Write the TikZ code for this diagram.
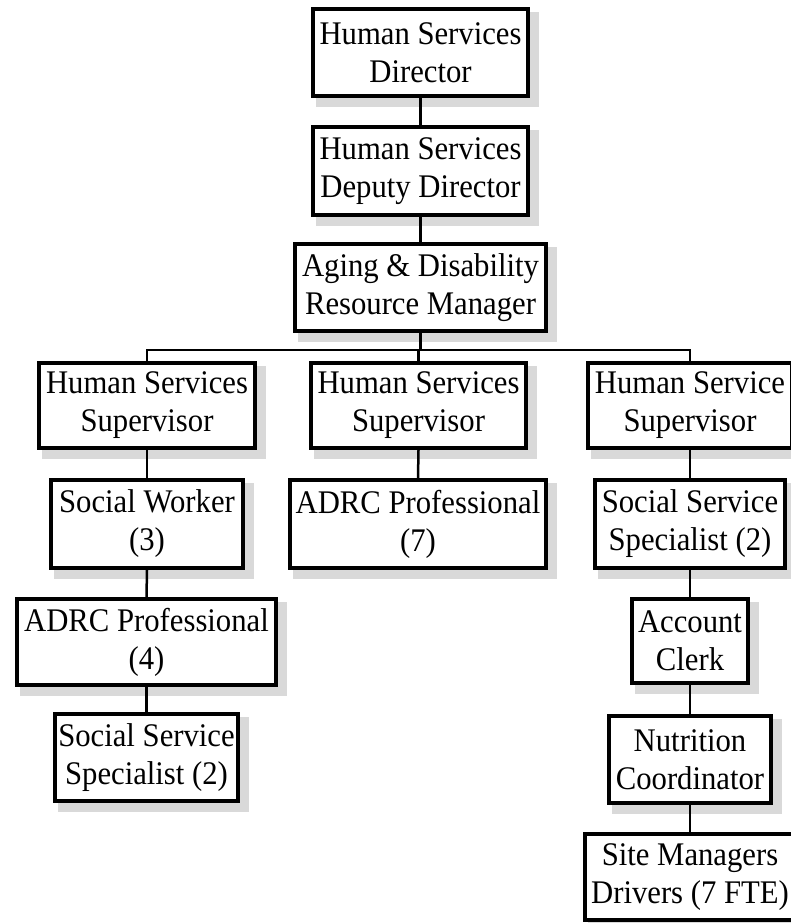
\documentclass[tikz,border=0pt]{standalone}
\usepackage{fontspec}
\setmainfont[FakeStretch=0.93]{Liberation Serif}
\usetikzlibrary{backgrounds}
\begin{document}
\begin{tikzpicture}[x=1pt,y=1pt,
  orgbox/.style={draw=black, line width=4pt, fill=white, align=center, inner sep=0pt,
    font=\fontsize{33}{38}\selectfont},
  link/.style={line width=2.5pt, draw=black},
  boxshadow/.style={fill=black!15}]
\useasboundingbox (0,0) rectangle (790,-923);
% top chain
\node[orgbox, minimum width=215, minimum height=87] (dir) at (420.5,-52.5) {Human Services\\Director};
\node[orgbox, minimum width=215, minimum height=88] (dep) at (420.5,-171) {Human Services\\Deputy Director};
\node[orgbox, minimum width=251, minimum height=87] (mgr) at (420.5,-287.5) {Aging \& Disability\\Resource Manager};
% supervisors
\node[orgbox, minimum width=216, minimum height=85] (sup1) at (147,-405.5) {Human Services\\Supervisor};
\node[orgbox, minimum width=215, minimum height=85] (sup2) at (418.5,-405.5) {Human Services\\Supervisor};
\node[orgbox, minimum width=204, minimum height=85] (sup3) at (690,-405.5) {Human Service\\Supervisor};
% left column
\node[orgbox, minimum width=192, minimum height=88] (sw) at (147,-524) {Social Worker\\(3)};
\node[orgbox, minimum width=259, minimum height=86] (adrc4) at (146.5,-642) {ADRC Professional\\(4)};
\node[orgbox, minimum width=183, minimum height=87] (sssl) at (146.5,-757.5) {Social Service\\Specialist (2)};
% middle column
\node[orgbox, minimum width=256, minimum height=88] (adrc7) at (418,-524) {ADRC Professional\\(7)};
% right column
\node[orgbox, minimum width=190, minimum height=88] (sssr) at (690,-524) {Social Service\\Specialist (2)};
\node[orgbox, minimum width=116, minimum height=84] (acct) at (690,-641) {Account\\Clerk};
\node[orgbox, minimum width=162, minimum height=87] (nutr) at (690,-759.5) {Nutrition\\Coordinator};
\node[orgbox, minimum width=210, minimum height=86] (site) at (690,-877) {Site Managers\\Drivers (7 FTE)};
% connectors and shadows behind the boxes
\coordinate (bar) at (420.5,-350);
\begin{scope}[on background layer]
\fill[white] (0,0) rectangle (790,-923);
\foreach \n in {dir,dep,mgr,sup1,sup2,sup3,sw,adrc4,sssl,adrc7,sssr,acct,nutr,site}
  \fill[boxshadow] ([shift={(5,-9)}]\n.south west) rectangle ([shift={(9,-5)}]\n.north east);
\draw[link] (dir.south) -- (dep.north);
\draw[link] (dep.south) -- (mgr.north);
\draw[link] (mgr.south) -- (bar);
\draw[link] (sup1.north) |- (bar) -| (sup3.north);
\draw[link] (sup2.north) -- (sup2.north |- bar);
\draw[link] (sup1.south) -- (sw.north);
\draw[link] (sw.south) -- (adrc4.north);
\draw[link] (adrc4.south) -- (sssl.north);
\draw[link] (sup2.south) -- (adrc7.north);
\draw[link] (sup3.south) -- (sssr.north);
\draw[link] (sssr.south) -- (acct.north);
\draw[link] (acct.south) -- (nutr.north);
\draw[link] (nutr.south) -- (site.north);
\end{scope}
\end{tikzpicture}
\end{document}
